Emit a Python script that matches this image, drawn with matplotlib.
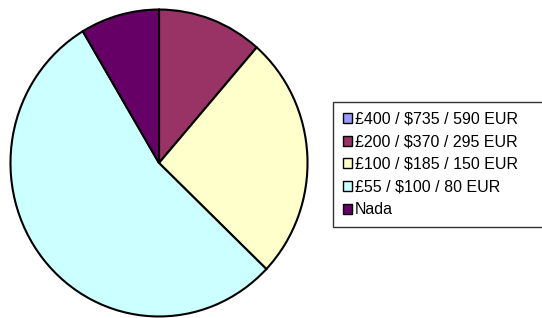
import matplotlib
matplotlib.use("Agg")
import matplotlib.pyplot as plt

categories = ["£400 / $735 / 590 EUR", "£200 / $370 / 295 EUR",
              "£100 / $185 / 150 EUR", "£55 / $100 / 80 EUR", "Nada"]
values = [0, 4, 9, 19, 3]
colors = ["#9999FF", "#993366", "#FFFFCC", "#CCFFFF", "#660066"]

plt.rcParams['font.family'] = ['Liberation Sans', 'DejaVu Sans']

fig = plt.figure(figsize=(5.42, 3.18), dpi=100)
ax = fig.add_axes([9/542, 0/318, 300/542, 310/318])
wedges, _ = ax.pie(values, colors=colors, startangle=90, counterclock=False,
                   radius=1, wedgeprops=dict(edgecolor="black", linewidth=1.5))
ax.set_aspect('auto')
ax.set_xlim(-1.01, 1.01)
ax.set_ylim(-1.01, 1.01)
ax.axis('off')

leg = fig.legend(wedges, categories, loc='upper left',
                 bbox_to_anchor=(333/542, 1 - 102/318, 230/542, 0), mode='expand',
                 fontsize=11.5,
                 frameon=True, fancybox=False, edgecolor='black',
                 handlelength=0.6, handleheight=0.6, handletextpad=0.15,
                 labelspacing=0.48, borderpad=0.6, borderaxespad=0)
leg.get_frame().set_linewidth(1.0)
for h in leg.legend_handles:
    h.set_linewidth(1.0)

fig.savefig("out.png", dpi=100)
